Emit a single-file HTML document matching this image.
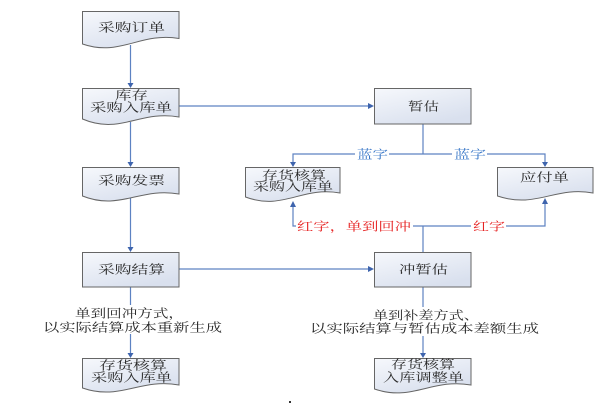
<!DOCTYPE html>
<html><head><meta charset="utf-8">
<style>
html,body{margin:0;padding:0;background:#fff;}
svg{display:block;}
text{font-family:"Liberation Serif","Noto Serif CJK SC","Noto Serif CJK JP",serif;font-size:12px;}
</style></head>
<body>
<svg width="600" height="406" viewBox="0 0 600 406" xmlns="http://www.w3.org/2000/svg">
<defs>
<linearGradient id="g" x1="0" y1="0" x2="0.6" y2="1">
<stop offset="0" stop-color="#f6f8fc"/>
<stop offset="1" stop-color="#d9e0ee"/>
</linearGradient>
</defs>

<!-- connectors -->
<g stroke="#5d82c2" stroke-width="1.2" fill="none">
<line x1="130.5" y1="45" x2="130.5" y2="84"/>
<line x1="130.5" y1="122" x2="130.5" y2="163"/>
<line x1="130.5" y1="198" x2="130.5" y2="248"/>
<line x1="130.5" y1="287" x2="130.5" y2="354"/>
<line x1="179" y1="106" x2="369" y2="106"/>
<line x1="179" y1="269" x2="369" y2="269"/>
<polyline points="423,124 423,154"/>
<polyline points="293,163 293,154 545,154 545,163"/>
<polyline points="423,252 423,226"/>
<polyline points="293,205 293,226 545,226 545,202"/>
<line x1="423" y1="287" x2="423" y2="354"/>
</g>
<!-- arrowheads -->
<g fill="#3e64ad">
<polygon points="127.5,83 133.5,83 130.5,88"/>
<polygon points="127.5,162 133.5,162 130.5,167"/>
<polygon points="127.5,247 133.5,247 130.5,252"/>
<polygon points="127.5,353 133.5,353 130.5,358"/>
<polygon points="368,103 368,109 374,106"/>
<polygon points="368,266 368,272 374,269"/>
<polygon points="290,162 296,162 293,167"/>
<polygon points="542,162 548,162 545,167"/>
<polygon points="290,207 296,207 293,201"/>
<polygon points="542,204 548,204 545,198"/>
<polygon points="420,353 426,353 423,358"/>
</g>

<!-- boxes -->
<g fill="url(#g)" stroke="#666" stroke-width="1">
<path d="M82.5,11.5 H179 V38.5 C140,32 120,57 82.5,44 Z"/>
<path d="M82.5,88.5 H179 V117 C140,110 120,135 82.5,119 Z"/>
<path d="M82.5,167.5 H179 V194 C140,187 120,211 82.5,196 Z"/>
<rect x="82.5" y="252.5" width="96.5" height="34.5"/>
<path d="M82.5,358.5 H179 V385 C140,378 120,401 82.5,388 Z"/>
<rect x="374.5" y="88.5" width="96.5" height="35.5"/>
<rect x="374.5" y="252.5" width="96.5" height="34.5"/>
<path d="M374.5,358.5 H471 V385 C432,378 412,402 374.5,389 Z"/>
<path d="M245.5,167.5 H340 V193 C302,186 283,211 245.5,197 Z"/>
<path d="M497.5,167.5 H593 V193 C555,186 536,209 497.5,196 Z"/>
</g>

<!-- label backgrounds -->
<g fill="#fff">
<rect x="355" y="147" width="34" height="14"/>
<rect x="452" y="147" width="35" height="14"/>
<rect x="296" y="219" width="117" height="14"/>
<rect x="471" y="219" width="35" height="14"/>
<rect x="42" y="305" width="180" height="29"/>
<rect x="309" y="307" width="230" height="29"/>
</g>

<!-- box text -->
<g fill="#2a2a2a">
<text x="98" y="31.5" textLength="67" lengthAdjust="spacingAndGlyphs">采购订单</text>
<text x="115" y="99.5" textLength="33" lengthAdjust="spacingAndGlyphs">库存</text>
<text x="90" y="111.5" textLength="82" lengthAdjust="spacingAndGlyphs">采购入库单</text>
<text x="98" y="184.5" textLength="67" lengthAdjust="spacingAndGlyphs">采购发票</text>
<text x="408" y="110.5" textLength="31" lengthAdjust="spacingAndGlyphs">暂估</text>
<text x="262" y="179.5" textLength="64" lengthAdjust="spacingAndGlyphs">存货核算</text>
<text x="253" y="190.5" textLength="80" lengthAdjust="spacingAndGlyphs">采购入库单</text>
<text x="520" y="181.5" textLength="49" lengthAdjust="spacingAndGlyphs">应付单</text>
<text x="98" y="273.5" textLength="67" lengthAdjust="spacingAndGlyphs">采购结算</text>
<text x="399" y="273.5" textLength="49" lengthAdjust="spacingAndGlyphs">冲暂估</text>
<text x="75" y="317.5" textLength="109" lengthAdjust="spacingAndGlyphs">单到回冲方式，</text>
<text x="43" y="331.5" textLength="179" lengthAdjust="spacingAndGlyphs">以实际结算成本重新生成</text>
<text x="99" y="369.5" textLength="68" lengthAdjust="spacingAndGlyphs">存货核算</text>
<text x="91" y="381.5" textLength="81" lengthAdjust="spacingAndGlyphs">采购入库单</text>
<text x="373" y="319.5" textLength="106" lengthAdjust="spacingAndGlyphs">单到补差方式、</text>
<text x="310" y="332.5" textLength="229" lengthAdjust="spacingAndGlyphs">以实际结算与暂估成本差额生成</text>
<text x="391" y="368.5" textLength="64" lengthAdjust="spacingAndGlyphs">存货核算</text>
<text x="383" y="381.5" textLength="81" lengthAdjust="spacingAndGlyphs">入库调整单</text>
</g>
<g fill="#3a78c8">
<text x="357" y="158.5" textLength="31" lengthAdjust="spacingAndGlyphs">蓝字</text>
<text x="454" y="158.5" textLength="32" lengthAdjust="spacingAndGlyphs">蓝字</text>
</g>
<g fill="#e62222">
<text x="297" y="230.5" textLength="114" lengthAdjust="spacingAndGlyphs">红字，单到回冲</text>
<text x="473" y="230.5" textLength="32" lengthAdjust="spacingAndGlyphs">红字</text>
</g>
<rect x="289" y="401" width="2" height="2" fill="#333"/>
</svg>
</body></html>
